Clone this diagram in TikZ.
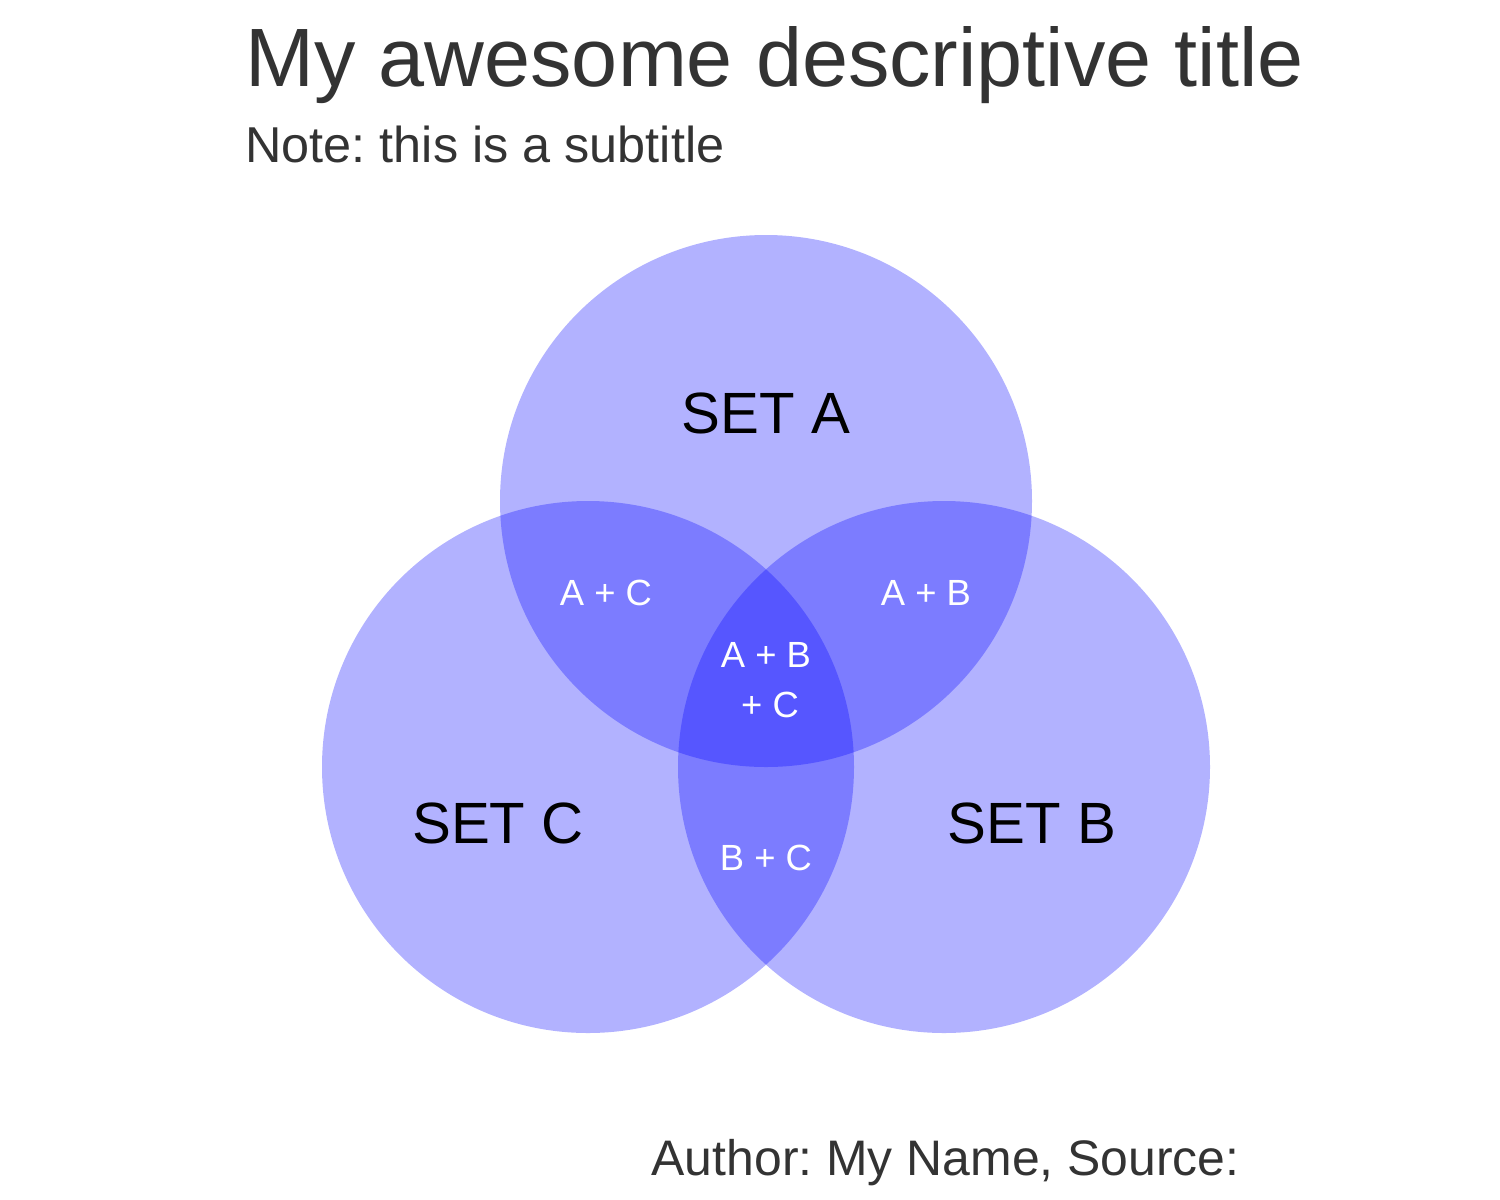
\documentclass[tikz,border=0pt]{standalone}
\usepackage{fontspec}
\setmainfont{Liberation Sans}
\definecolor{titlegray}{HTML}{333333}
\frenchspacing
\begin{document}
\begin{tikzpicture}[x=0.5pt,y=-0.5pt,
  setcircle/.style={fill=blue,fill opacity=0.3,draw=none},
  titletext/.style={inner sep=0pt,anchor=base west,text=titlegray,font=\fontsize{41.4}{50}\selectfont},
  subtext/.style={inner sep=0pt,anchor=base west,text=titlegray,font=\fontsize{25.2}{30}\selectfont},
  captext/.style={inner sep=0pt,anchor=base east,text=titlegray,font=\fontsize{24.95}{30}\selectfont},
  setlabel/.style={inner sep=0pt,anchor=base,text=black,font=\fontsize{29.1}{35}\selectfont},
  overlap/.style={inner sep=0pt,anchor=base,text=white,font=\fontsize{18.2}{25}\selectfont,align=center}]
\useasboundingbox (0,0) rectangle (1500,1200);
\fill[white] (0,0) rectangle (1500,1200);
% circles
\fill[setcircle] (766,501) circle[radius=133pt];
\fill[setcircle] (944,767) circle[radius=133pt];
\fill[setcircle] (588,767) circle[radius=133pt];
% titles
\node[titletext] (title) at (245,86) {My awesome descriptive title};
\node[subtext] (subtitle) at (245,162) {Note: this is a subtitle};
\node[captext] (caption) at (1240,1175) {Author: My Name, Source:};
% set labels
\node[setlabel] (seta) at (766,433) {SET A};
\node[setlabel] (setc) at (498,843) {SET C};
\node[setlabel] (setb) at (1032,843) {SET B};
% overlap labels
\node[overlap] (ac) at (606,605) {A + C};
\node[overlap] (ab) at (926,605) {A + B};
\node[overlap] (abc1) at (766,667) {A + B};
\node[overlap] (abc2) at (770,717) {+ C};
\node[overlap] (bc) at (766,870) {B + C};
\end{tikzpicture}
\end{document}
